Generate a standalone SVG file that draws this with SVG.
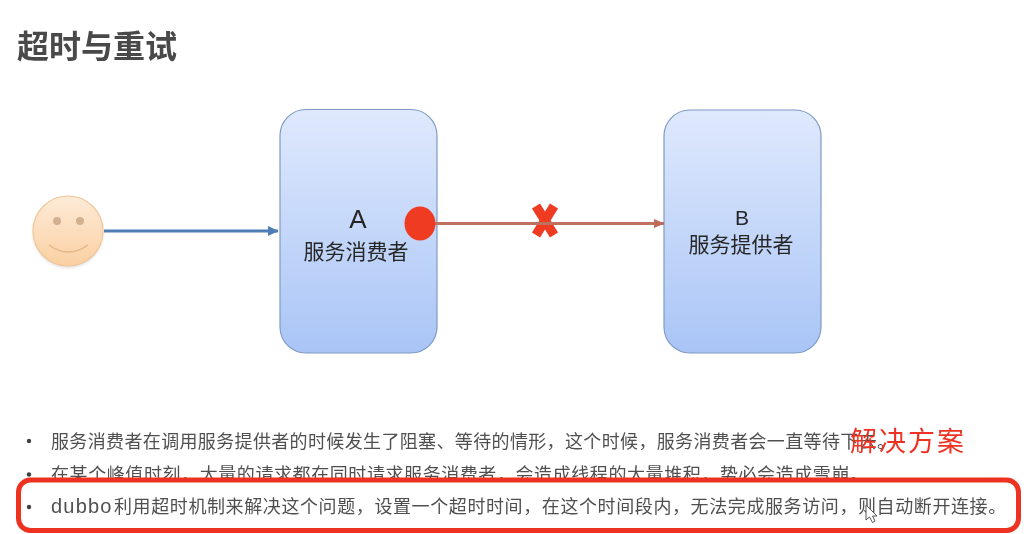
<svg xmlns="http://www.w3.org/2000/svg" width="1026" height="534" viewBox="0 0 1026 534">
<style>
text{font-family:"Liberation Sans","Noto Sans CJK SC",sans-serif}
.b{fill:#505050;font-size:18px}
.n{fill:#262626;font-size:21px;text-anchor:middle}
.box{fill:url(#g);stroke:#7f9bc4;stroke-width:1.2}
.soft{filter:url(#t)}
</style>
<defs>
<linearGradient id="g" x1="0" y1="0" x2="0" y2="1"><stop offset="0" stop-color="#dfe9fd"/><stop offset="1" stop-color="#a9c5f6"/></linearGradient>
<linearGradient id="f" x1="0" y1="0" x2="0" y2="1"><stop offset="0" stop-color="#fdebd8"/><stop offset="1" stop-color="#fad0a2"/></linearGradient>
<filter id="s" x="-20%" y="-20%" width="140%" height="140%"><feGaussianBlur stdDeviation="1.500"/></filter>
<filter id="t" x="-2%" y="-10%" width="104%" height="120%"><feGaussianBlur stdDeviation="0.400"/></filter>
<marker id="ab" markerUnits="userSpaceOnUse" markerWidth="11" markerHeight="11" refX="10" refY="5.500" orient="auto"><path d="M0,0.500L10.500,5.500L0,10.500Z" fill="#4f7db5"/></marker>
<marker id="ar" markerUnits="userSpaceOnUse" markerWidth="11" markerHeight="11" refX="10" refY="5.500" orient="auto"><path d="M0,1L10.500,5.500L0,10Z" fill="#bd6a5c"/></marker>
</defs>
<rect width="1026" height="534" fill="#fff"/>
<text id="title" class="soft" x="17" y="58" font-size="32" font-weight="700" fill="#484848">超时与重试</text>
<g id="person" class="soft">
<circle cx="68" cy="233" r="35" fill="#c9c9c9" opacity=".6" filter="url(#s)"/>
<circle cx="68" cy="231" r="35" fill="url(#f)" stroke="#f2c597" stroke-width="1.200"/>
<circle cx="57" cy="221" r="4" fill="#d3b08f"/><circle cx="80" cy="221" r="4" fill="#d3b08f"/>
<path d="M49,245Q68,259 88,245" fill="none" stroke="#e3b585" stroke-width="1.300"/>
</g>
<g id="nodeA" class="soft"><rect class="box" x="280" y="109.500" width="157" height="243.500" rx="26"/>
<text x="358" y="228" class="n" style="font-size:26px">A</text><text x="356" y="259" class="n">服务消费者</text></g>
<g id="nodeB" class="soft"><rect class="box" x="664" y="110" width="157" height="243" rx="26"/>
<text x="742" y="225" class="n">B</text><text x="741" y="252" class="n">服务提供者</text></g>
<g id="connectors" class="soft">
<line x1="104" y1="231" x2="278" y2="231" stroke="#4f7db5" stroke-width="3" marker-end="url(#ab)"/>
<g stroke="#ee3b24" stroke-width="9.500"><line x1="536" y1="206" x2="554" y2="235"/><line x1="554" y1="206" x2="536" y2="235"/></g>
<line x1="435" y1="223.500" x2="664" y2="223.500" stroke="#c0705f" stroke-width="3" marker-end="url(#ar)"/>
</g>
<ellipse id="dot" class="soft" cx="420" cy="223.500" rx="15.500" ry="17" fill="#ee3b24"/>
<g id="bullets">
<circle cx="29" cy="441" r="2.200" fill="#404040"/>
<text class="b soft" x="51" y="448" textLength="844" lengthAdjust="spacing">服务消费者在调用服务提供者的时候发生了阻塞、等待的情形，这个时候，服务消费者会一直等待下去。</text>
<circle cx="29" cy="474.500" r="2.200" fill="#404040"/>
<text class="b soft" x="51" y="481" textLength="817" lengthAdjust="spacing">在某个峰值时刻，大量的请求都在同时请求服务消费者，会造成线程的大量堆积，势必会造成雪崩。</text>
<rect x="0" y="479" width="1026" height="55" fill="#fff"/>
<circle cx="29" cy="507" r="2.200" fill="#404040"/>
<text class="b soft" x="51" y="513" letter-spacing="0.600"><tspan font-size="20" letter-spacing="1.200">dubbo</tspan><tspan x="114">利用超时机制来解决这个问题，设置一个超时时间，在这个时间段内，无法完成服务访问，则自动断开连接。</tspan></text>
</g>
<rect id="highlight" class="soft" x="18.500" y="480" width="1000" height="50.500" rx="12" fill="none" stroke="#ee3324" stroke-width="5"/>
<text id="solution" class="soft" x="850" y="451" font-size="27" fill="#ee3324" letter-spacing="2">解决方案</text>
<path id="cursor" d="M866,505V520L869.500,517L872.500,522.500L875,521L872.500,516H877Z" fill="#fff" stroke="#555" stroke-width="1"/>
</svg>
